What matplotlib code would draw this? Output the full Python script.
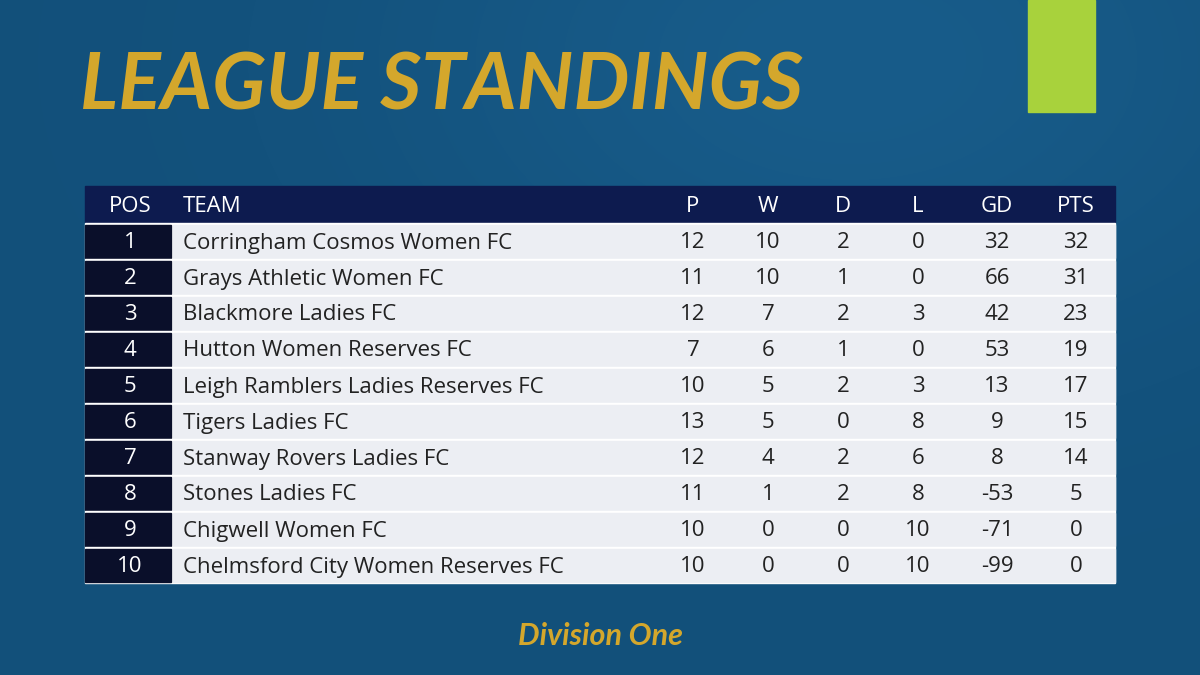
import matplotlib
matplotlib.use("Agg")
import matplotlib.pyplot as plt
import numpy as np
from matplotlib.patches import Rectangle

# ---- data ----
headers = ["POS", "TEAM", "P", "W", "D", "L", "GD", "PTS"]
teams = ["Corringham Cosmos Women FC", "Grays Athletic Women FC", "Blackmore Ladies FC",
         "Hutton Women Reserves FC", "Leigh Ramblers Ladies Reserves FC", "Tigers Ladies FC",
         "Stanway Rovers Ladies FC", "Stones Ladies FC", "Chigwell Women FC",
         "Chelmsford City Women Reserves FC"]
played = [12, 11, 12, 7, 10, 13, 12, 11, 10, 10]
won = [10, 10, 7, 6, 5, 5, 4, 1, 0, 0]
drawn = [2, 1, 2, 1, 2, 0, 2, 2, 0, 0]
lost = [0, 0, 3, 0, 3, 8, 6, 8, 10, 10]
goal_diff = [32, 66, 42, 53, 13, 9, 8, -53, -71, -99]
points = [32, 31, 23, 19, 17, 15, 14, 5, 0, 0]

FONT = "Lato"
TFONT = "Open Sans"
GOLD = "#d4a72c"

fig = plt.figure(figsize=(12, 6.75), dpi=100)
ax = fig.add_axes([0, 0, 1, 1])
ax.set_xlim(0, 1200)
ax.set_ylim(675, 0)
ax.axis("off")

# background with soft gradient
yy, xx = np.mgrid[0:675, 0:1200]
bg = 0.4 + 0.6 * np.exp(-(((xx - 850) / 450) ** 2 + ((yy - 60) / 280) ** 2))
c0 = np.array([0x0e, 0x48, 0x70]) / 255
c1 = np.array([0x18, 0x5c, 0x8a]) / 255
img = c0 + (c1 - c0) * bg[..., None]
ax.imshow(img, extent=[0, 1200, 675, 0], aspect="auto", zorder=0)

# green block
ax.add_patch(Rectangle((1028, 0), 67, 112, color="#a8d23c", zorder=1))

ax.text(80, 88, "LEAGUE STANDINGS", color=GOLD, fontsize=57, fontweight="bold",
        fontstyle="italic", family=FONT, va="center", ha="left", zorder=2)

# table
x0, x1 = 85, 1115
pos_w = 88
top, hh, rh = 186, 37, 36
col_x = [130, 183, 693, 768, 843, 918, 997, 1076]

ax.add_patch(Rectangle((x0, top), x1 - x0, hh, color="#0d1b4f", zorder=1))
for j, h in enumerate(headers):
    ax.text(col_x[j], top + hh / 2 + 2, h, color="white", fontsize=16, family=TFONT,
            ha="left" if j == 1 else "center", va="center", zorder=2)

for i, team in enumerate(teams):
    y = top + hh + i * rh
    ax.add_patch(Rectangle((x0, y), x1 - x0, rh, color="white", zorder=1))
    ax.add_patch(Rectangle((x0, y + 1.5), pos_w - 2, rh - 3, color="#0a0f2a", zorder=1))
    ax.add_patch(Rectangle((x0 + pos_w, y + 1.5), x1 - x0 - pos_w, rh - 3, color="#eceef3", zorder=1))
    vals = [i + 1, team, played[i], won[i], drawn[i], lost[i], goal_diff[i], points[i]]
    for j, v in enumerate(vals):
        ax.text(col_x[j], y + rh / 2 + 2, str(v), fontsize=16, family=TFONT,
                color="white" if j == 0 else "#222222",
                ha="left" if j == 1 else "center", va="center", zorder=2)

ax.text(600, 636, "Division One", color=GOLD, fontsize=22, fontweight="bold",
        fontstyle="italic", family=FONT, ha="center", va="center", zorder=2)

fig.savefig("out.png", dpi=100)
